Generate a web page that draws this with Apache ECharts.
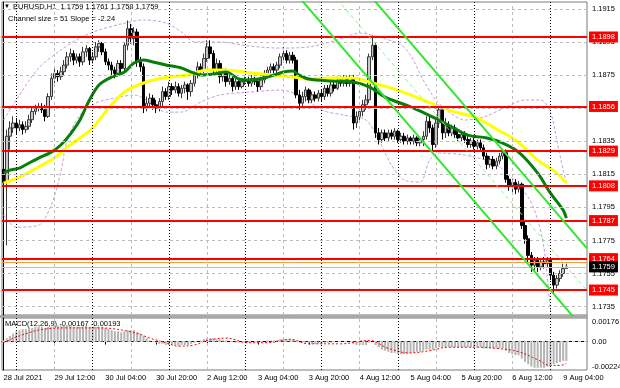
<!DOCTYPE html>
<html><head><meta charset="utf-8">
<script src="https://cdn.jsdelivr.net/npm/echarts@6/dist/echarts.min.js"></script>
<style>html,body{margin:0;padding:0;background:#fff}#c{width:620px;height:388px}</style>
</head><body><div id="c"></div>
<script>
// ---- candles [open, close, low, high] per trading day (EURUSD H1) ----
const d0728 = [[1.1818,1.1810,1.1805,1.1824],[1.1810,1.1838,1.1772,1.1842],[1.1838,1.1843,1.1830,1.1847],[1.1843,1.1846,1.1840,1.1850]];
const d0729 = [[1.1846,1.1843,1.1839,1.1849],[1.1843,1.1845,1.1841,1.1848],[1.1845,1.1842,1.1839,1.1847],[1.1842,1.1844,1.1840,1.1847],
[1.1844,1.1848,1.1842,1.1851],[1.1848,1.1853,1.1846,1.1855],[1.1853,1.1855,1.1851,1.1857],[1.1855,1.1856,1.1853,1.1858],
[1.1856,1.1854,1.1852,1.1858],[1.1854,1.1850,1.1847,1.1857],[1.1850,1.1862,1.1849,1.1864],[1.1862,1.1873,1.1860,1.1876],
[1.1873,1.1876,1.1870,1.1879],[1.1876,1.1874,1.1871,1.1878],[1.1874,1.1877,1.1872,1.1880],[1.1877,1.1881,1.1875,1.1884],
[1.1881,1.1886,1.1879,1.1889],[1.1886,1.1888,1.1883,1.1891],[1.1888,1.1884,1.1881,1.1890],[1.1884,1.1886,1.1882,1.1888],
[1.1886,1.1883,1.1880,1.1888],[1.1883,1.1889,1.1881,1.1892],[1.1889,1.1891,1.1886,1.1893],[1.1891,1.1884,1.1881,1.1892]];
const d0730 = [[1.1884,1.1886,1.1882,1.1889],[1.1886,1.1892,1.1884,1.1895],[1.1892,1.1894,1.1889,1.1896],[1.1894,1.1889,1.1887,1.1895],
[1.1889,1.1883,1.1881,1.1891],[1.1883,1.1881,1.1878,1.1885],[1.1881,1.1878,1.1875,1.1883],[1.1878,1.1876,1.1873,1.1880],
[1.1876,1.1882,1.1874,1.1884],[1.1882,1.1879,1.1876,1.1884],[1.1879,1.1893,1.1877,1.1895],[1.1893,1.1903,1.1890,1.1908],
[1.1903,1.1897,1.1894,1.1906],[1.1897,1.1901,1.1893,1.1904],[1.1901,1.1883,1.1880,1.1903],[1.1883,1.1880,1.1877,1.1886],
[1.1880,1.1855,1.1852,1.1882],[1.1855,1.1858,1.1853,1.1862],[1.1858,1.1861,1.1855,1.1864],[1.1861,1.1857,1.1854,1.1863],
[1.1857,1.1855,1.1852,1.1860],[1.1855,1.1859,1.1853,1.1861],[1.1859,1.1865,1.1856,1.1868],[1.1865,1.1862,1.1860,1.1867]];
const d0802 = [[1.1862,1.1868,1.1860,1.1871],[1.1868,1.1866,1.1863,1.1870],[1.1866,1.1868,1.1864,1.1871],[1.1868,1.1864,1.1862,1.1870],
[1.1864,1.1867,1.1861,1.1869],[1.1867,1.1869,1.1864,1.1871],[1.1869,1.1865,1.1860,1.1870],[1.1865,1.1870,1.1862,1.1872],
[1.1870,1.1875,1.1868,1.1877],[1.1875,1.1880,1.1873,1.1883],[1.1880,1.1878,1.1875,1.1882],[1.1878,1.1885,1.1876,1.1888],
[1.1885,1.1892,1.1883,1.1896],[1.1892,1.1888,1.1885,1.1896],[1.1888,1.1878,1.1875,1.1890],[1.1878,1.1882,1.1876,1.1885],
[1.1882,1.1874,1.1870,1.1884],[1.1874,1.1877,1.1871,1.1879],[1.1877,1.1871,1.1868,1.1879],[1.1871,1.1873,1.1869,1.1875],
[1.1873,1.1868,1.1865,1.1874],[1.1868,1.1871,1.1866,1.1873],[1.1871,1.1868,1.1866,1.1872],[1.1868,1.1871,1.1867,1.1873]];
const d0803 = [[1.1871,1.1872,1.1869,1.1874],[1.1872,1.1870,1.1868,1.1874],[1.1870,1.1873,1.1868,1.1875],[1.1873,1.1871,1.1869,1.1874],
[1.1871,1.1868,1.1865,1.1873],[1.1868,1.1872,1.1866,1.1874],[1.1872,1.1876,1.1870,1.1878],[1.1876,1.1878,1.1874,1.1880],
[1.1878,1.1880,1.1876,1.1882],[1.1880,1.1878,1.1876,1.1882],[1.1878,1.1881,1.1876,1.1883],[1.1881,1.1886,1.1879,1.1888],
[1.1886,1.1888,1.1884,1.1892],[1.1888,1.1884,1.1882,1.1890],[1.1884,1.1887,1.1882,1.1889],[1.1887,1.1884,1.1882,1.1889],
[1.1884,1.1863,1.1861,1.1886],[1.1863,1.1858,1.1854,1.1866],[1.1858,1.1862,1.1856,1.1865],[1.1862,1.1866,1.1859,1.1868],
[1.1866,1.1860,1.1858,1.1867],[1.1860,1.1863,1.1858,1.1865],[1.1863,1.1861,1.1859,1.1865],[1.1861,1.1864,1.1859,1.1866]];
const d0804 = [[1.1864,1.1862,1.1859,1.1866],[1.1862,1.1867,1.1860,1.1869],[1.1867,1.1864,1.1862,1.1869],[1.1864,1.1869,1.1862,1.1871],
[1.1869,1.1867,1.1865,1.1871],[1.1867,1.1872,1.1866,1.1874],[1.1872,1.1870,1.1868,1.1874],[1.1870,1.1873,1.1868,1.1875],
[1.1873,1.1870,1.1868,1.1875],[1.1870,1.1873,1.1868,1.1875],[1.1873,1.1846,1.1842,1.1875],[1.1846,1.1850,1.1843,1.1853],
[1.1850,1.1853,1.1847,1.1856],[1.1853,1.1857,1.1850,1.1860],[1.1857,1.1860,1.1854,1.1863],[1.1860,1.1886,1.1858,1.1888],
[1.1886,1.1893,1.1884,1.1899],[1.1893,1.1840,1.1837,1.1895],[1.1840,1.1836,1.1833,1.1843],[1.1836,1.1840,1.1834,1.1842],
[1.1840,1.1837,1.1835,1.1842],[1.1837,1.1840,1.1835,1.1842],[1.1840,1.1838,1.1836,1.1842],[1.1838,1.1841,1.1836,1.1843]];
const d0805 = [[1.1841,1.1836,1.1834,1.1842],[1.1836,1.1838,1.1834,1.1840],[1.1838,1.1835,1.1833,1.1840],[1.1835,1.1837,1.1833,1.1839],
[1.1837,1.1835,1.1833,1.1838],[1.1835,1.1837,1.1833,1.1839],[1.1837,1.1834,1.1832,1.1838],[1.1834,1.1836,1.1832,1.1838],
[1.1836,1.1838,1.1832,1.1841],[1.1838,1.1847,1.1836,1.1850],[1.1847,1.1843,1.1840,1.1850],[1.1843,1.1833,1.1829,1.1845],
[1.1833,1.1846,1.1831,1.1849],[1.1846,1.1854,1.1843,1.1857],[1.1854,1.1840,1.1836,1.1856],[1.1840,1.1845,1.1837,1.1849],
[1.1845,1.1840,1.1838,1.1847],[1.1840,1.1843,1.1838,1.1845],[1.1843,1.1839,1.1837,1.1845],[1.1839,1.1837,1.1835,1.1841],
[1.1837,1.1839,1.1835,1.1841],[1.1839,1.1836,1.1834,1.1841],[1.1836,1.1833,1.1831,1.1838],[1.1833,1.1835,1.1831,1.1837]];
const d0806 = [[1.1835,1.1832,1.1830,1.1837],[1.1832,1.1834,1.1830,1.1836],[1.1834,1.1831,1.1829,1.1836],[1.1831,1.1826,1.1824,1.1833],
[1.1826,1.1821,1.1818,1.1828],[1.1821,1.1824,1.1819,1.1826],[1.1824,1.1820,1.1818,1.1826],[1.1820,1.1823,1.1818,1.1825],
[1.1823,1.1826,1.1821,1.1828],[1.1826,1.1828,1.1824,1.1830],[1.1828,1.1812,1.1810,1.1830],[1.1812,1.1808,1.1805,1.1814],
[1.1808,1.1810,1.1804,1.1812],[1.1810,1.1806,1.1803,1.1812],[1.1806,1.1809,1.1804,1.1811],[1.1809,1.1784,1.1782,1.1810],
[1.1784,1.1776,1.1773,1.1787],[1.1776,1.1766,1.1762,1.1778],[1.1766,1.1760,1.1756,1.1768],[1.1760,1.1763,1.1757,1.1765],
[1.1763,1.1759,1.1756,1.1765],[1.1759,1.1762,1.1757,1.1764],[1.1762,1.1761,1.1758,1.1765],[1.1761,1.1763,1.1759,1.1765]];
const d0809 = [[1.1763,1.1754,1.1751,1.1764],[1.1754,1.1748,1.1743,1.1756],[1.1748,1.1752,1.1746,1.1754],[1.1752,1.1755,1.1750,1.1757],
[1.1755,1.1758,1.1753,1.1761],[1.1758,1.1759,1.1758,1.1761]];

// ---- indicator lines, vertices as [bar index, value] ----
const maGreen = [[0,1.18157],[2,1.18175],[5,1.18187],[8,1.18218],[11,1.18248],[15,1.18284],[18,1.18327],[21,1.18393],[24,1.18478],[27,1.18599],[30,1.18690],[34,1.18738],[38,1.18768],[41,1.18823],[44,1.18841],[47,1.18829],[51,1.18811],[56,1.18792],[59,1.18768],[62,1.18750],[66,1.18756],[70,1.18768],[74,1.18726],[78,1.18720],[83,1.18738],[88,1.18768],[91,1.18774],[93,1.18750],[96,1.18726],[103,1.18714],[110,1.18708],[115,1.18678],[120,1.18617],[128,1.18557],[135,1.18496],[141,1.18436],[146,1.18387],[152,1.18369],[157,1.18339],[162,1.18284],[168,1.18157],[172,1.18036],[176,1.17933],[177,1.17885]];
const maYellow = [[0,1.18097],[5,1.18133],[11,1.18194],[16,1.18248],[20,1.18315],[24,1.18369],[28,1.18430],[33,1.18550],[38,1.18647],[44,1.18702],[50,1.18732],[58,1.18750],[64,1.18780],[70,1.18780],[78,1.18762],[85,1.18750],[91,1.18738],[96,1.18726],[103,1.18732],[110,1.18732],[115,1.18708],[124,1.18659],[132,1.18599],[140,1.18538],[149,1.18490],[155,1.18423],[161,1.18357],[168,1.18236],[174,1.18157],[177,1.18097]];
const bandUpper = [[0,1.18478],[5,1.18629],[11,1.18792],[18,1.18901],[24,1.18974],[30,1.19022],[37,1.19059],[44,1.19083],[51,1.19065],[56,1.19010],[60,1.18950],[68,1.18950],[77,1.18926],[87,1.18913],[96,1.18920],[105,1.18962],[112,1.19004],[118,1.18980],[125,1.18932],[128,1.18871],[132,1.18720],[136,1.18599],[141,1.18514],[145,1.18478],[151,1.18496],[158,1.18556],[164,1.18599],[169,1.18599],[172,1.18526],[174,1.18357],[176,1.18175],[177,1.18103]];
const bandLower = [[0,1.17903],[4,1.17830],[11,1.17842],[15,1.17964],[18,1.18163],[20,1.18357],[24,1.18508],[29,1.18581],[35,1.18611],[41,1.18629],[46,1.18587],[51,1.18526],[56,1.18526],[62,1.18587],[68,1.18629],[77,1.18647],[87,1.18659],[93,1.18629],[100,1.18538],[107,1.18508],[114,1.18478],[118,1.18357],[122,1.18206],[126,1.18115],[131,1.18103],[134,1.18236],[137,1.18278],[145,1.18266],[154,1.18218],[159,1.18145],[165,1.18012],[168,1.17873],[170,1.17700],[172,1.17330],[173,1.17150]];
// regression channel (size 51, slope -2.24)
const chanLower = [[92,1.19242],[183.5,1.17192]];
const chanMid   = [[92,1.19497],[183.5,1.17447]];
const chanUpper = [[92,1.19752],[183.5,1.17702]];

// ---- MACD(12,26,9) ----
const macdHist = [0.0001,0.0003,0.0005,0.0007,0.0009,0.0010,
0.0011,0.0011,0.0012,0.0012,0.0013,0.0013,0.0013,0.0012,0.0013,0.0013,
0.0014,0.0014,0.0014,0.0014,0.0014,0.0014,0.0013,0.0013,0.0013,0.0013,0.0014,0.0013,0.0013,0.0013,0.0013,
0.0013,0.0012,0.0011,0.0010,0.0009,0.0009,0.0008,0.0009,0.0010,0.0010,0.0010,0.0008,0.0007,0.0005,0.0003,
0.0001,0.0000,-0.0001,-0.0002,-0.0002,-0.0003,-0.0003,-0.0003,-0.0003,-0.0004,-0.0003,-0.0003,-0.0003,
-0.0002,-0.0001,0.0000,0.0001,
0.0002,0.0003,0.0003,0.0003,0.0002,0.0002,0.0001,0.0001,0.0000,0.0000,
-0.0001,-0.0001,-0.0001,-0.0001,-0.0001,0.0000,0.0000,-0.0001,0.0000,0.0000,0.0001,0.0001,0.0001,0.0001,0.0002,
0.0002,0.0002,0.0002,0.0002,0.0001,0.0000,-0.0001,-0.0001,-0.0001,
-0.0002,-0.0002,-0.0002,-0.0002,-0.0001,-0.0001,-0.0001,0.0000,0.0000,0.0000,0.0000,0.0000,0.0000,-0.0002,-0.0003,-0.0003,-0.0003,-0.0003,
-0.0001,0.0000,-0.0003,
-0.0005,-0.0007,-0.0008,-0.0009,-0.0010,-0.0010,-0.0011,-0.0011,-0.0011,-0.0011,-0.0010,-0.0010,-0.0009,-0.0009,
-0.0008,-0.0007,-0.0007,-0.0007,-0.0006,-0.0005,-0.0005,-0.0005,-0.0005,-0.0005,-0.0005,-0.0005,-0.0005,-0.0005,-0.0005,-0.0005,
-0.0005,-0.0005,-0.0005,-0.0006,-0.0006,-0.0006,-0.0006,-0.0006,-0.0006,-0.0006,
-0.0008,-0.0010,-0.0011,-0.0012,-0.0012,-0.0015,-0.0018,-0.0020,-0.0022,-0.0023,-0.0023,-0.0023,-0.0023,-0.0022,
-0.0021,-0.0020,-0.0019,-0.0018,-0.0017,-0.0017];
const macdSignal = [[0,-0.0001],[5,0.0005],[13,0.0011],[20,0.0012],[30,0.0012],[41,0.0008],[46,0.0003],[51,-0.0001],[55,-0.0004],[60,-0.0003],[64,0.0001],[70,0.0003],[77,-0.0001],[83,-0.0001],[90,0.0002],[96,-0.0002],[106,-0.0002],[115,0.0001],[121,-0.0006],[128,-0.0010],[134,-0.0008],[140,-0.0005],[149,-0.0005],[155,-0.0006],[162,-0.0009],[168,-0.0016],[172,-0.0021],[175,-0.0021],[177,-0.00193]];

// ---- levels and axis labels ----
const levelPrices = [1.1898,1.1856,1.1829,1.1808,1.1787,1.1764,1.1745];
const orangeLine = 1.1762;
const bidPrice = 1.1759;
const priceTicks = [1.1735,1.1755,1.1775,1.1795,1.1815,1.1835,1.1855,1.1875,1.1895,1.1915];
const macdTicks = [0.00176,0,-0.00224];
const macdTickText = ['0.00176','0.00','-0.00224'];
const timeTickIdx = [0,16,32,48,64,80,96,112,128,144,160,176];
const timeTickText = ['28 Jul 2021','29 Jul 12:00','30 Jul 04:00','30 Jul 20:00','2 Aug 12:00','3 Aug 04:00','3 Aug 20:00','4 Aug 12:00','5 Aug 04:00','5 Aug 20:00','6 Aug 12:00','9 Aug 04:00'];
const daySepIdx = [4,28,52,76,100,124,148,172];
const noonIdx = [16,40,64,88,112,136,160];
const titleText = 'EURUSD,H1  1.1759 1.1761 1.1758 1.1759';
const channelText = 'Channel size = 51 Slope = -2.24';
const macdText = 'MACD(12,26,9) -0.00167 -0.00193';

const FONT = 'Liberation Sans, Arial, sans-serif';
const FS = 7.5;
const candles = [].concat(d0728,d0729,d0730,d0802,d0803,d0804,d0805,d0806,d0809);
const N = 184;
const cats = Array.from({length: N}, (_, i) => String(i));

const gridDash = {color: '#bcbcbc', type: [3, 3], width: 1};
const sepDot = {color: '#000000', type: [1, 2], width: 1};
const vLines = daySepIdx.map(i => ({xAxis: i, lineStyle: sepDot, label: {show: false}}))
  .concat(noonIdx.map(i => ({xAxis: i, lineStyle: gridDash, label: {show: false}})));

const mainGridLines = priceTicks.map(p => ({yAxis: p, lineStyle: gridDash,
  label: {show: true, position: 'end', distance: 5, formatter: p.toFixed(4), color: '#000', fontSize: FS, fontFamily: FONT}}))
  .concat(vLines);

const levelLines = levelPrices.map(p => ({yAxis: p, lineStyle: {color: '#ff0000', width: 2, type: 'solid'},
  label: {show: true, position: 'end', distance: 2, formatter: p.toFixed(4), color: '#fff', backgroundColor: '#ff0000',
    padding: [2, 3, 1, 3], fontSize: FS, fontFamily: FONT}}));
levelLines.push({yAxis: orangeLine, lineStyle: {color: '#ff9933', width: 1, type: 'solid'}, label: {show: false}});
levelLines.push({yAxis: bidPrice, lineStyle: {color: '#c0c0c0', width: 1, type: 'solid'},
  label: {show: true, position: 'end', distance: 2, formatter: bidPrice.toFixed(4), color: '#fff', backgroundColor: '#000',
    padding: [2, 3, 1, 3], fontSize: FS, fontFamily: FONT}});

const macdLines = macdTicks.map((v, k) => ({yAxis: v, lineStyle: k === 1 ? {color: '#c4c4c4', width: 1, type: [3,3]} : {color: 'rgba(0,0,0,0)', width: 0},
  label: {show: true, position: 'end', distance: 5, formatter: macdTickText[k], color: '#000', fontSize: FS, fontFamily: FONT}}))
  .concat(vLines);

const mk = (data) => ({silent: true, symbol: ['none', 'none'], animation: false, precision: 5, data: data});
const lineBase = {type: 'line', xAxisIndex: 1, yAxisIndex: 0, symbol: 'none', smooth: 0.3, silent: true};

const option = {
  animation: false,
  backgroundColor: '#ffffff',
  grid: [
    {left: 2, top: 2, width: 585, height: 313, show: true, borderColor: '#7a7a7a', borderWidth: 1, backgroundColor: '#fff'},
    {left: 2, top: 318, width: 585, height: 52, show: true, borderColor: '#7a7a7a', borderWidth: 1, backgroundColor: '#fff'}
  ],
  xAxis: [
    {type: 'category', gridIndex: 0, data: cats, boundaryGap: true, show: false},
    {type: 'value', gridIndex: 0, min: -0.5, max: N - 0.5, show: false},
    {type: 'category', gridIndex: 1, data: cats, boundaryGap: true,
      axisLine: {show: true, lineStyle: {color: '#000'}},
      axisTick: {show: true, alignWithLabel: true, length: 3, interval: (i) => timeTickIdx.includes(i), lineStyle: {color: '#000'}},
      axisLabel: {show: true, interval: (i) => timeTickIdx.includes(i), align: 'left', margin: 4,
        formatter: (v, i) => timeTickText[timeTickIdx.indexOf(i)] || '', color: '#000', fontSize: FS, fontFamily: FONT},
      splitLine: {show: false}},
    {type: 'value', gridIndex: 1, min: -0.5, max: N - 0.5, show: false}
  ],
  yAxis: [
    {type: 'value', gridIndex: 0, min: 1.172992, max: 1.191916, position: 'right',
      axisLine: {show: true, lineStyle: {color: '#000'}}, axisTick: {show: false}, axisLabel: {show: false}, splitLine: {show: false}},
    {type: 'value', gridIndex: 1, min: -0.0025, max: 0.00207, position: 'right',
      axisLine: {show: true, lineStyle: {color: '#000'}}, axisTick: {show: false}, axisLabel: {show: false}, splitLine: {show: false}}
  ],
  series: [
    Object.assign({}, lineBase, {data: bandUpper, z: 2, lineStyle: {color: '#c99be0', width: 1, type: [3, 2]}, markLine: mk(mainGridLines)}),
    Object.assign({}, lineBase, {data: bandLower, z: 2, lineStyle: {color: '#c99be0', width: 1, type: [3, 2]}}),
    {type: 'candlestick', xAxisIndex: 0, yAxisIndex: 0, data: candles, z: 3, barWidth: 3, silent: true,
      itemStyle: {color: '#c8c8c8', color0: '#000000', borderColor: '#3a3a3a', borderColor0: '#000000', borderWidth: 1}},
    Object.assign({}, lineBase, {data: maYellow, z: 4, lineStyle: {color: '#ffff00', width: 3}}),
    Object.assign({}, lineBase, {data: maGreen, z: 4, lineStyle: {color: '#0a7d0a', width: 3}}),
    Object.assign({}, lineBase, {data: chanLower, smooth: false, z: 5, lineStyle: {color: '#33e633', width: 2}}),
    Object.assign({}, lineBase, {data: chanUpper, smooth: false, z: 5, lineStyle: {color: '#33e633', width: 2}}),
    Object.assign({}, lineBase, {data: chanMid, smooth: false, z: 6, lineStyle: {color: '#99ee99', width: 1, type: [4, 3]}, markLine: mk(levelLines)}),
    {type: 'bar', xAxisIndex: 2, yAxisIndex: 1, data: macdHist, barWidth: 2, z: 2, silent: true,
      itemStyle: {color: '#b4b4b4'}},
    {type: 'line', xAxisIndex: 3, yAxisIndex: 1, data: macdSignal, symbol: 'none', smooth: 0.4, z: 3, silent: true,
      lineStyle: {color: '#ff0000', width: 1, type: [2, 2]}, markLine: mk(macdLines)}
  ],
  graphic: [
    {type: 'rect', left: 0, top: 315, shape: {width: 588, height: 3}, style: {fill: '#a8a8a8'}, silent: true},
    {type: 'text', left: 4, top: 3, style: {text: '▼', fill: '#000', font: '6px ' + FONT}, silent: true},
    {type: 'text', left: 13, top: 3, style: {text: titleText, fill: '#000', font: FS + 'px ' + FONT}, silent: true},
    {type: 'text', left: 8, top: 15, style: {text: channelText, fill: '#000', font: FS + 'px ' + FONT}, silent: true},
    {type: 'text', left: 5, top: 320, style: {text: macdText, fill: '#000', font: FS + 'px ' + FONT}, silent: true}
  ]
};
const chart = echarts.init(document.getElementById('c'), null, {renderer: 'canvas'});
chart.setOption(option);
</script>
</body></html>
